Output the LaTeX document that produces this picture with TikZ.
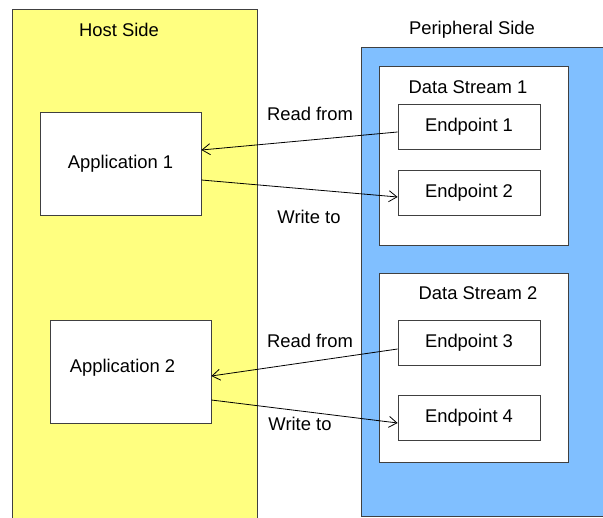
\documentclass[tikz,border=0pt]{standalone}
\usepackage{fontspec}
\setmainfont{Liberation Sans}
\usetikzlibrary{arrows.meta}
\definecolor{hostyellow}{RGB}{255,255,128}
\definecolor{periblue}{RGB}{128,191,255}
\begin{document}
\begin{tikzpicture}[x=1pt,y=-1pt,
  font=\fontsize{18.4}{22}\selectfont,
  box/.style={draw=black!75,line width=0.8pt,fill=white,inner sep=0pt},
  appbox/.style={box,minimum width=161pt,minimum height=103pt},
  epbox/.style={box,minimum width=142pt,minimum height=45pt},
  streambox/.style={box,minimum width=189pt},
  link/.style={line width=0.8pt,-{Straight Barb[length=8pt,width=11pt]}}]
\useasboundingbox (0,0) rectangle (603,518);
\clip (0,0) rectangle (603,518);
\fill[white] (0,0) rectangle (603,518);
\draw[fill=hostyellow,draw=black!75,line width=0.8pt] (12,9) rectangle (257,540);
\draw[fill=periblue,draw=black!75,line width=0.8pt] (361,47) rectangle (640,516);
\node (hostlbl) at (119,30) {Host Side};
\node (perilbl) at (472,30) {Peripheral Side};
\node[streambox,minimum height=179pt] (ds1) at (473.5,155.5) {};
\node[streambox,minimum height=189pt] (ds2) at (473.5,367.5) {};
\node (ds1lbl) at (468,87) {Data Stream 1};
\node (ds2lbl) at (478,293) {Data Stream 2};
\node[epbox] (ep1) at (469,126.5) {Endpoint 1};
\node[epbox] (ep2) at (469,192.5) {Endpoint 2};
\node[epbox] (ep3) at (469,343) {Endpoint 3};
\node[epbox] (ep4) at (469,418) {Endpoint 4};
\node[appbox] (app1) at (120.5,163.5) {Application 1};
\node[appbox,label={[xshift=-8pt,yshift=4pt]center:Application 2}] (app2) at (130.5,372) {};
\draw[link] ([yshift=-5.5pt]ep1.west) -- ([yshift=13.5pt]app1.east);
\draw[link] ([yshift=-16.5pt]app1.east) -- ([yshift=-4.5pt]ep2.west);
\draw[link] ([yshift=-6pt]ep3.west) -- ([yshift=-4pt]app2.east);
\draw[link] ([yshift=-28pt]app2.east) -- ([yshift=-5pt]ep4.west);
\node (read1) at (310,114) {Read from};
\node (write1) at (309,217) {Write to};
\node (read2) at (310,341) {Read from};
\node (write2) at (300,424) {Write to};
\end{tikzpicture}
\end{document}
